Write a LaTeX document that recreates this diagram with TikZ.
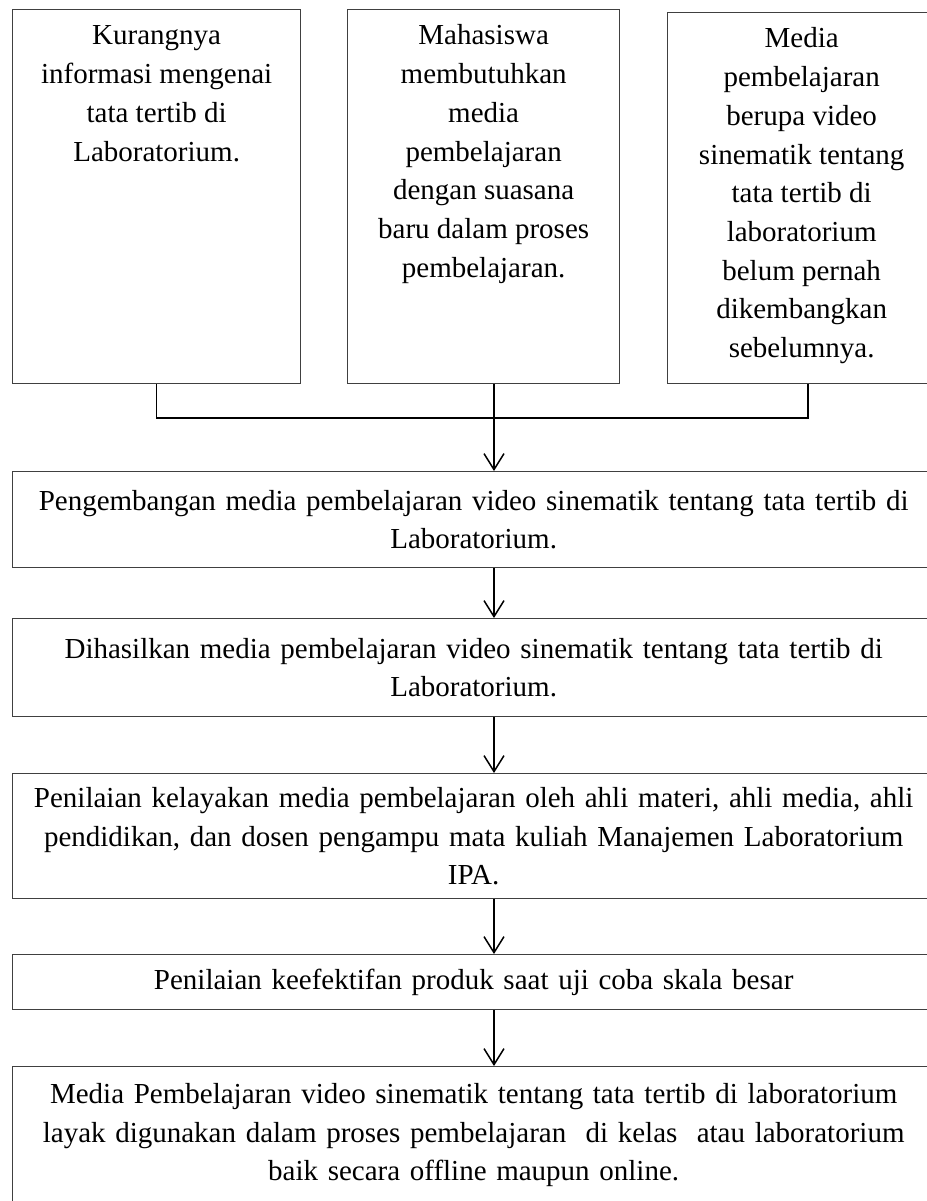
\documentclass[tikz,border=0pt]{standalone}
\usepackage{fontspec}
\setmainfont{Liberation Serif}
\usetikzlibrary{positioning,arrows.meta}

\begin{document}
\begin{tikzpicture}[
			x=0.5pt, y=-0.5pt,
			box/.style={rectangle, draw=black!75, line width=0.65pt, inner sep=0pt, anchor=north west},
			toptext/.style={anchor=north, align=center, inner sep=0pt, font=\fontsize{14.5}{19.35}\selectfont},
			widebox/.style={box, minimum width=461pt, text width=450pt, align=center, font=\fontsize{14.5}{19.35}\selectfont},
			link/.style={line width=0.75pt},
			flow/.style={link, -{Straight Barb[length=8pt,width=10pt]}},
		]
		
			\useasboundingbox (0,0) rectangle (927,1201);
		
			%Top boxes
			\node[box, minimum width=144pt, minimum height=187pt]		(b1) at (12,9)		{};
			\node[box, minimum width=136pt, minimum height=187pt]		(b2) at (347,9)		{};
			\node[box, minimum width=134pt, minimum height=185.5pt]	(b3) at (667,12)	{};
		
			\node[toptext, below=4.25pt of b1.north]	(t1)	{\strut Kurangnya\\ informasi mengenai\\ tata tertib di\\ Laboratorium.};
			\node[toptext, below=4.25pt of b2.north]	(t2)	{\strut Mahasiswa\\ membutuhkan\\ media\\ pembelajaran\\ dengan suasana\\ baru dalam proses\\ pembelajaran.};
			\node[toptext, below=4.25pt of b3.north]	(t3)	{\strut Media\\ pembelajaran\\ berupa video\\ sinematik tentang\\ tata tertib di\\ laboratorium\\ belum pernah\\ dikembangkan\\ sebelumnya.};
		
			%Wide boxes
			\node[widebox, minimum height=48pt]		(b4) at (12,471)	{Pengembangan media pembelajaran video sinematik tentang tata tertib di\\ Laboratorium.};
			\node[widebox, minimum height=49pt]		(b5) at (12,618)	{Dihasilkan media pembelajaran video sinematik tentang tata tertib di\\ Laboratorium.};
			\node[widebox, minimum height=62.5pt]	(b6) at (12,773)	{Penilaian kelayakan media pembelajaran oleh ahli materi, ahli media, ahli\\ pendidikan, dan dosen pengampu mata kuliah Manajemen Laboratorium\\ IPA.};
			\node[widebox, minimum height=27.5pt]	(b7) at (12,954)	{Penilaian keefektifan produk saat uji coba skala besar};
			\node[widebox, minimum height=68.5pt]	(b8) at (12,1066)	{Media Pembelajaran video sinematik tentang tata tertib di laboratorium\\ layak digunakan dalam proses pembelajaran~ di kelas~ atau laboratorium\\ baik secara offline maupun online.};
		
			%Lines
			\coordinate (spine) at (494,0);
			\coordinate (c3) at (808,418);
			\draw[link]	(b1.south) |- (c3) -- (c3 |- b3.south);
			\draw[flow]	(b2.south -| spine) -- (b4.north -| spine);
			\draw[flow]	(b4.south -| spine) -- (b5.north -| spine);
			\draw[flow]	(b5.south -| spine) -- (b6.north -| spine);
			\draw[flow]	(b6.south -| spine) -- (b7.north -| spine);
			\draw[flow]	(b7.south -| spine) -- (b8.north -| spine);
		
		\end{tikzpicture}
\end{document}
